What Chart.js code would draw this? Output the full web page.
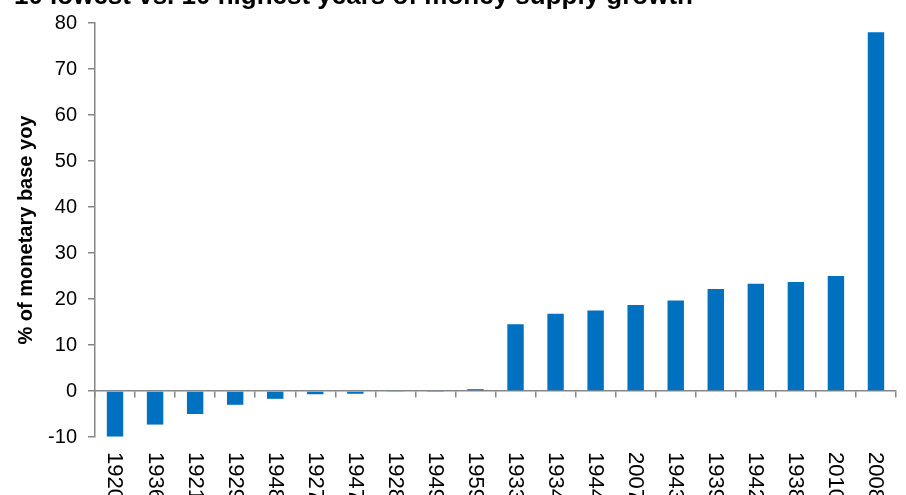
<!DOCTYPE html>
<html>
<head>
<meta charset="utf-8">
<style>
  html, body { margin: 0; padding: 0; background: #fff; overflow: hidden; }
  #wrap { width: 906px; height: 495px; }
</style>
</head>
<body>
<div id="wrap">
  <canvas id="growth" width="906" height="495"></canvas>
</div>

<script src="https://cdn.jsdelivr.net/npm/chart.js"></script>

<script>
  const chartTitle = '10 lowest vs. 10 highest years of money supply growth';
  const years = ['1920', '1936', '1921', '1929', '1948', '1927', '1947', '1928', '1949', '1959',
                 '1933', '1934', '1944', '2007', '1943', '1939', '1942', '1938', '2010', '2008'];
  const baseGrowth = [-9.9, -7.3, -5.0, -3.0, -1.7, -0.7, -0.6, -0.2, -0.1, 0.4,
                      14.5, 16.8, 17.5, 18.7, 19.7, 22.2, 23.3, 23.7, 25.0, 78.0];
  const yTitle = '% of monetary base yoy';

  const axisGrey = '#868686';
  const font = 'Liberation Sans, Arial, sans-serif';

  // year labels hang below the plot, reading top to bottom like the original
  const lowLabels = {
    id: 'lowLabels',
    afterDraw(chart) {
      const c = chart.ctx;
      const x = chart.scales.x;
      c.save();
      c.fillStyle = '#000';
      c.font = '22px ' + font;
      c.textAlign = 'left';
      c.textBaseline = 'middle';
      years.forEach((y, i) => {
        c.save();
        c.translate(x.getPixelForTick(i) - 0.5, 452);
        c.rotate(Math.PI / 2);
        c.fillText(y, 0, 0);
        c.restore();
      });
      // title, cropped at the top edge
      c.font = 'bold 26px ' + font;
      c.textAlign = 'right';
      c.textBaseline = 'alphabetic';
      c.fillText(chartTitle, 693, 4);
      c.restore();
    }
  };

  new Chart(document.getElementById('growth'), {
    type: 'bar',
    data: {
      labels: years,
      datasets: [{
        data: baseGrowth,
        backgroundColor: '#0070C0',
        categoryPercentage: 1,
        barPercentage: 0.41
      }]
    },
    options: {
      responsive: false,
      animation: false,
      layout: { padding: { left: 10, right: 10, top: 19, bottom: 58 } },
      plugins: { legend: { display: false }, tooltip: { enabled: false } },
      scales: {
        x: {
          position: { y: 0 },
          grid: { drawOnChartArea: false, tickLength: 6, color: axisGrey, lineWidth: 1.5 },
          border: { color: axisGrey, width: 1.5 },
          ticks: { display: false }
        },
        y: {
          min: -10,
          max: 80,
          afterFit(s) { s.width = 85; },
          ticks: { stepSize: 10, padding: 11, color: '#000', font: { family: font, size: 20 } },
          grid: { drawOnChartArea: false, tickLength: 7, color: axisGrey, lineWidth: 1.5 },
          border: { color: axisGrey, width: 1.5 },
          title: { display: true, text: yTitle, color: '#000', font: { family: font, size: 20, weight: 'bold' } }
        }
      }
    },
    plugins: [lowLabels]
  });
</script>
</body>
</html>
